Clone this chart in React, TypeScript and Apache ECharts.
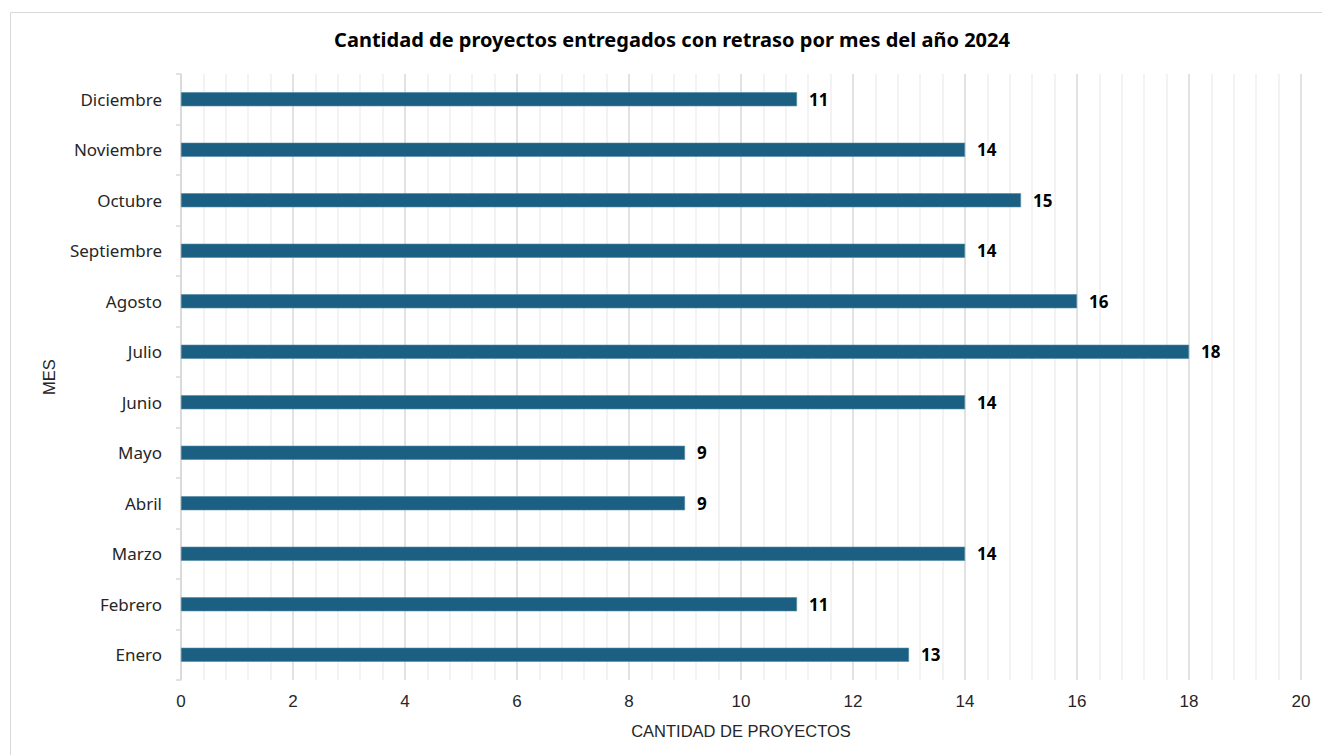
import React, { useEffect, useRef } from "react";
import * as echarts from "echarts";

const months = ["Enero", "Febrero", "Marzo", "Abril", "Mayo", "Junio", "Julio", "Agosto", "Septiembre", "Octubre", "Noviembre", "Diciembre"];
const delayed = [13, 11, 14, 9, 9, 14, 18, 16, 14, 15, 14, 11];
const xTicks = [0, 20, 2];

const FONT = "'Noto Sans', Lato, sans-serif";
const FONT2 = "'Liberation Sans', Arial, sans-serif";

export default function App() {
  const ref = useRef<HTMLDivElement>(null);
  useEffect(() => {
    if (!ref.current) return;
    const chart = echarts.init(ref.current, undefined, { renderer: "svg" });
    chart.setOption({
      animation: false,
      backgroundColor: "#ffffff",
      textStyle: { fontFamily: FONT },
      graphic: [
        {
          type: "rect",
          shape: { x: 10.5, y: 12.5, width: 1330, height: 760 },
          style: { fill: "none", stroke: "#d9d9d9", lineWidth: 1 },
          silent: true,
        },
        {
          type: "text",
          x: 672,
          y: 39,
          style: {
            text: "Cantidad de proyectos entregados con retraso por mes del año 2024",
            textAlign: "center",
            textVerticalAlign: "middle",
            fontSize: 20,
            fontWeight: "bold",
            fontFamily: FONT,
            fill: "#000000",
          },
        },
      ],
      grid: { left: 181, right: 21, top: 74, bottom: 75, containLabel: false },
      xAxis: {
        type: "value",
        min: xTicks[0],
        max: xTicks[1],
        interval: xTicks[2],
        name: "CANTIDAD DE PROYECTOS",
        nameLocation: "middle",
        nameGap: 42,
        nameTextStyle: { fontSize: 16.5, color: "#262626", fontFamily: FONT2 },
        axisLine: { show: false },
        axisTick: { show: false },
        axisLabel: { fontSize: 17, color: "#262626", margin: 13, fontFamily: FONT2 },
        splitLine: { show: true, lineStyle: { color: "#d9d9d9", width: 1.5 } },
        minorTick: { show: false, splitNumber: 5 },
        minorSplitLine: { show: true, lineStyle: { color: "#efefef", width: 1.5 } },
      },
      yAxis: {
        type: "category",
        data: months,
        name: "MES",
        nameLocation: "middle",
        nameGap: 124,
        nameRotate: 90,
        nameTextStyle: { fontSize: 16.5, color: "#262626", fontFamily: FONT2 },
        axisLine: { show: true, lineStyle: { color: "#d9d9d9", width: 1.5 } },
        axisTick: { show: true, length: 5, lineStyle: { color: "#d9d9d9", width: 1.5 } },
        axisLabel: { fontSize: 17, color: "#262626", margin: 19, fontFamily: FONT },
        splitLine: { show: false },
      },
      series: [
        {
          type: "bar",
          data: delayed,
          barWidth: 14,
          itemStyle: { color: "#1b6083", borderColor: "#4f88a5", borderWidth: 0.6 },
          label: {
            show: true,
            position: "right",
            distance: 12,
            fontSize: 17,
            fontWeight: "bold",
            color: "#000000",
            fontFamily: FONT,
          },
        },
      ],
    });
    return () => chart.dispose();
  }, []);
  return (
    <div
      ref={ref}
      style={{ position: "fixed", left: 0, top: 0, width: 1322, height: 755, background: "#fff" }}
    />
  );
}
